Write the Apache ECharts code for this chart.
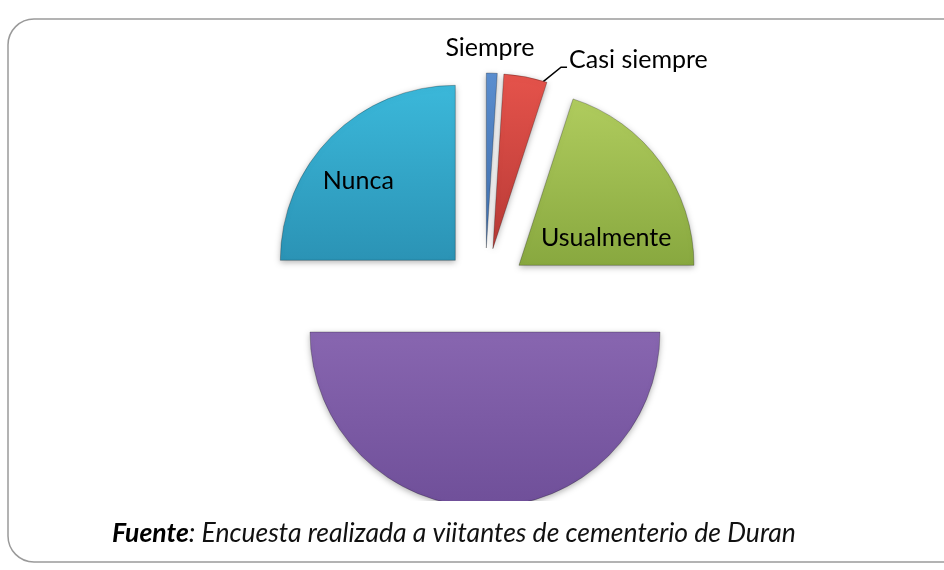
<!DOCTYPE html>
<html>
<head>
<meta charset="utf-8">
<script src="https://cdn.jsdelivr.net/npm/echarts@6/dist/echarts.min.js"></script>
<style>
html,body{margin:0;padding:0;background:#fff;}
#chart{width:944px;height:570px;}
</style>
</head>
<body>
<div id="chart"></div>
<script>
// datos de la encuesta (porcentajes)
var categorias = ['Siempre', 'Casi siempre', 'Usualmente', '', 'Nunca'];
var valores = [1, 4, 20, 50, 25];
var colores = [
    ['#5b8fd0', '#3f6fae'],
    ['#e5534b', '#b83a36'],
    ['#b0cc5e', '#88a83f'],
    ['#8866b0', '#6f4f99'],
    ['#3bb8da', '#2b93b5']
];
// posicion del texto: fuera para las porciones chicas, dentro para las grandes
var posLabel = ['outside', 'outside', 'inside', 'inside', 'inside'];

var chart = echarts.init(document.getElementById('chart'));

var datos = categorias.map(function (c, i) {
    return {
        name: c,
        value: valores[i],
        selected: true,
        itemStyle: {
            color: new echarts.graphic.LinearGradient(0, 0, 0, 1, [
                {offset: 0, color: colores[i][0]},
                {offset: 1, color: colores[i][1]}
            ])
        },
        label: {show: c !== '', position: posLabel[i]},
        labelLine: {show: i === 1}
    };
});

// Casi siempre: la linea guia sale de la esquina de la porcion y termina bajo el texto
function guiaCasi(p) {
    var dx = 27, dy = 1;
    var r = p.labelRect;
    var x0 = r.x + dx, yl = r.y + r.height / 2 + dy + 7;
    var ini = p.labelLinePoints ? p.labelLinePoints[0] : [x0 - 40, yl + 20];
    return {
        dx: dx, dy: dy,
        labelLinePoints: [[ini[0] + 16, ini[1] + 6], [x0 - 8, yl], [x0 - 2, yl]]
    };
}

// ajuste fino de las etiquetas
var ajuste = {
    0: function (p) { return {dx: -60, dy: -7}; },
    1: guiaCasi,
    2: function (p) { return {dx: 14, dy: 26}; },
    4: function (p) { return {dx: -33, dy: -15}; }
};

var option = {
    animation: false,
    graphic: [{
        type: 'rect',
        shape: {x: 8, y: 19, width: 960, height: 543, r: 26},
        style: {fill: 'none', stroke: '#9a9a9a', lineWidth: 1.5},
        silent: true
    }, {
        // el grafico original recorta la porcion inferior
        type: 'rect',
        z: 100,
        shape: {x: 290, y: 501, width: 400, height: 20},
        style: {fill: '#fff'},
        silent: true
    }],
    title: {
        left: 107,
        top: 515,
        text: '{b|Fuente}{n|: Encuesta realizada a viitantes de cementerio de Duran}',
        textStyle: {
            fontWeight: 'normal',
            rich: {
                b: {fontFamily: 'Lato', fontSize: 26.5, fontStyle: 'italic', fontWeight: 'bold', color: '#000'},
                n: {fontFamily: 'Lato', fontSize: 26.5, fontStyle: 'italic', fontWeight: 'normal', color: '#111'}
            }
        }
    },
    series: [{
        type: 'pie',
        center: [485, 290],
        radius: 175,
        startAngle: 90,
        clockwise: true,
        selectedMode: 'multiple',
        selectedOffset: 42,
        avoidLabelOverlap: false,
        label: {
            fontFamily: 'Lato',
            fontSize: 25,
            color: '#000',
            formatter: '{b}'
        },
        labelLine: {
            length: 18,
            length2: 8,
            lineStyle: {color: '#000', width: 1.5}
        },
        itemStyle: {
            borderColor: 'rgba(0,0,0,0.25)',
            borderWidth: 1,
            shadowBlur: 6,
            shadowColor: 'rgba(0,0,0,0.3)',
            shadowOffsetY: 2
        },
        select: {itemStyle: {}},
        emphasis: {scale: false},
        labelLayout: function (p) {
            return ajuste[p.dataIndex] ? ajuste[p.dataIndex](p) : {};
        },
        data: datos
    }]
};

chart.setOption(option);
</script>
</body>
</html>
